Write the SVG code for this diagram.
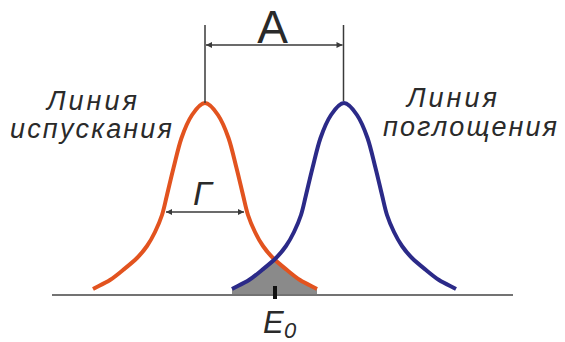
<svg xmlns="http://www.w3.org/2000/svg" xmlns:xlink="http://www.w3.org/1999/xlink" width="565" height="342" viewBox="0 0 565 342">
  <style>
    .lbl { font-family: "Liberation Sans", Arial, sans-serif; font-style: italic; fill: #2a2a2a; }
    .dim { stroke: #3a3a3a; stroke-width: 1.5; fill: none; }
    .curve { fill: none; stroke-width: 4; stroke-linecap: butt; stroke-linejoin: round; }
  </style>
  <defs>
    <marker id="arr" viewBox="0 0 10 10" refX="10" refY="5" markerWidth="7" markerHeight="6" markerUnits="userSpaceOnUse" orient="auto-start-reverse">
      <path d="M0,0 L10,5 L0,10 Z" fill="#3a3a3a"/>
    </marker>
    <path id="line" d="M93,289 C98.67,286 105,283.17 110,280 C115,276.83 118.5,273.67 123,270 C127.5,266.33 133,262 137,258 C141,254 144,250.33 147,246 C150,241.67 152.5,237.17 155,232 C157.5,226.83 160,221.17 162,215 C164,208.83 165.08,202.83 167,195 C168.92,187.17 171.08,177.5 173.5,168 C175.92,158.5 178.42,146.83 181.5,138 C184.58,129.17 188.08,120.83 192,115 C195.92,109.17 200.67,103 205,103 C209.33,103 214.08,109.17 218,115 C221.92,120.83 225.42,129.17 228.5,138 C231.58,146.83 234.08,158.5 236.5,168 C238.92,177.5 241.08,187.17 243,195 C244.92,202.83 246,208.83 248,215 C250,221.17 252.5,226.83 255,232 C257.5,237.17 260,241.67 263,246 C266,250.33 269,254 273,258 C277,262 282.5,266.33 287,270 C291.5,273.67 295,276.83 300,280 C305,283.17 311.33,286 317,289"/>
  </defs>

  <g id="overlap">
    <path d="M232,289 C237.67,286 244,283.17 249,280 C254,276.83 257.5,273.67 262,270 C266.5,266.33 271,262.3 274.5,259 C278.5,262.5 282.5,266.33 287,270 C291.5,273.67 295,276.83 300,280 C305,283.17 311.33,286 317,289 L317,294 L232,294 Z" fill="#8a8a8a"/>
  </g>

  <g id="axis">
    <line x1="52" y1="295" x2="513" y2="295" stroke="#444" stroke-width="1.5"/>
  </g>

  <g id="emission-line">
    <use xlink:href="#line" href="#line" class="curve" stroke="#E2531F"/>
  </g>

  <g id="absorption-line">
    <use xlink:href="#line" href="#line" class="curve" stroke="#2B2A88" transform="translate(139,0)"/>
  </g>

  <g id="connectors">
    <line class="dim" x1="205" y1="25" x2="205" y2="103"/>
    <line class="dim" x1="343.5" y1="25" x2="343.5" y2="101"/>
    <line class="dim" x1="206" y1="45" x2="342.5" y2="45" marker-start="url(#arr)" marker-end="url(#arr)"/>
    <line class="dim" x1="166" y1="212" x2="244" y2="212" marker-start="url(#arr)" marker-end="url(#arr)"/>
  </g>

  <g id="e0-tick">
    <rect x="273" y="286" width="4" height="13" fill="#111"/>
  </g>

  <g id="label-A">
    <text x="272.5" y="43" text-anchor="middle" font-family="Liberation Sans, Arial, sans-serif" font-size="46" fill="#2a2a2a">A</text>
  </g>

  <g id="label-gamma">
    <text class="lbl" x="193" y="205" font-size="34">Γ</text>
  </g>

  <g id="label-emission">
    <text class="lbl" x="47" y="110" font-size="27" textLength="90" lengthAdjust="spacing">Линия</text>
    <text class="lbl" x="10" y="138" font-size="27" textLength="162" lengthAdjust="spacing">испускания</text>
  </g>

  <g id="label-absorption">
    <text class="lbl" x="407" y="107" font-size="27" textLength="90" lengthAdjust="spacing">Линия</text>
    <text class="lbl" x="383" y="136" font-size="27" textLength="174" lengthAdjust="spacing">поглощения</text>
  </g>

  <g id="label-E0">
    <text class="lbl" x="263" y="333" font-size="31">E</text>
    <text class="lbl" x="284" y="338" font-size="22">0</text>
  </g>
</svg>
